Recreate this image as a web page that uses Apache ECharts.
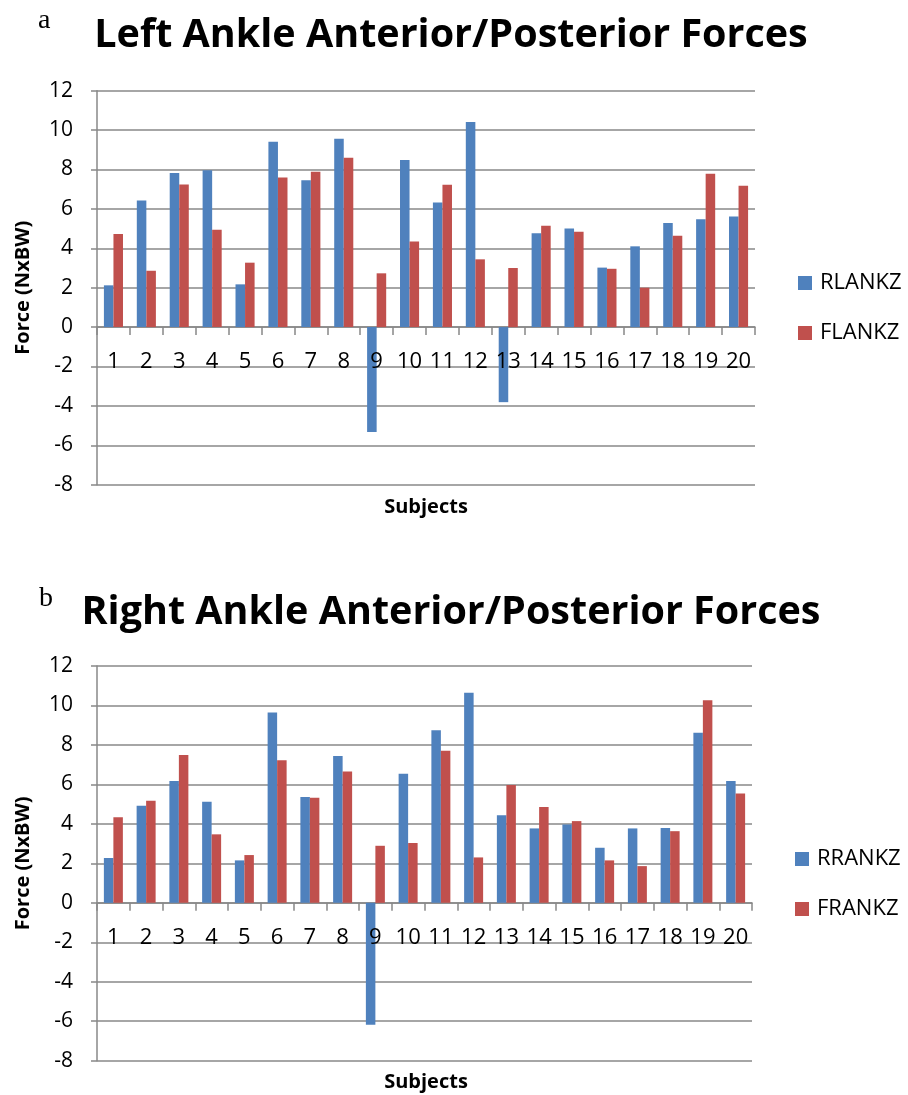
<!DOCTYPE html>
<html><head><meta charset="utf-8">
<script src="https://cdn.jsdelivr.net/npm/echarts@6/dist/echarts.min.js"></script>
<style>html,body{margin:0;padding:0;background:#fff}#c{width:908px;height:1095px}</style>
</head><body><div id="c"></div>
<script>
const subjects = ['1','2','3','4','5','6','7','8','9','10','11','12','13','14','15','16','17','18','19','20'];
const RLANKZ = [2.12,6.43,7.82,7.96,2.17,9.41,7.45,9.56,-5.33,8.48,6.33,10.41,-3.81,4.76,5.01,3.02,4.10,5.28,5.47,5.62];
const FLANKZ = [4.72,2.86,7.24,4.94,3.27,7.60,7.89,8.60,2.73,4.35,7.23,3.44,3.00,5.15,4.84,2.96,2.00,4.64,7.79,7.18];
const RRANKZ = [2.27,4.92,6.17,5.12,2.15,9.65,5.36,7.44,-6.18,6.54,8.75,10.64,4.44,3.77,3.97,2.79,3.77,3.79,8.62,6.17];
const FRANKZ = [4.34,5.17,7.49,3.47,2.42,7.22,5.32,6.66,2.89,3.03,7.70,2.30,5.97,4.85,4.14,2.15,1.86,3.63,10.27,5.54];
const titleTop = 'Left Ankle Anterior/Posterior Forces';
const titleBottom = 'Right Ankle Anterior/Posterior Forces';
const yTitle = 'Force (NxBW)';
const xTitle = 'Subjects';

const FONT = 'Open Sans';
const GRID = '#888888';
const BLUE = '#4F81BD', RED = '#C0504D';

function xAxis(i){
  return {
    type:'category', gridIndex:i, data:subjects,
    axisLine:{show:true, onZero:true, lineStyle:{color:GRID, width:1.5}},
    axisTick:{show:true, length:8, lineStyle:{color:GRID, width:1.5}},
    axisLabel:{show:false}
  };
}
function xLabelAxis(i, off){
  return {
    type:'category', gridIndex:i, data:subjects, position:'bottom', offset:off, z:20,
    axisLine:{show:false, onZero:false}, axisTick:{show:false}, splitLine:{show:false},
    axisLabel:{fontFamily:FONT, fontSize:22, color:'#000', margin:24, lineHeight:22, interval:0}
  };
}
function yAxis(i){
  return {
    type:'value', gridIndex:i, min:-8, max:12, interval:2,
    axisLine:{show:true, lineStyle:{color:GRID, width:1.5}},
    axisTick:{show:true, length:6, lineStyle:{color:GRID, width:1.5}},
    splitLine:{show:true, lineStyle:{color:GRID, width:1.5}},
    axisLabel:{fontFamily:FONT, fontSize:21, color:'#000', margin:24},
    name:yTitle, nameLocation:'middle', nameGap:64, nameRotate:90,
    nameTextStyle:{fontFamily:FONT, fontWeight:'bold', fontSize:20, color:'#000'}
  };
}
function bar(name, data, color, i){
  return {type:'bar', name, data, xAxisIndex:i, yAxisIndex:i, itemStyle:{color},
    barGap:'0%', barCategoryGap:'42%', animation:false};
}

const chart = echarts.init(document.getElementById('c'), null, {renderer:'canvas'});
const tStyle = {fontFamily:FONT, fontWeight:'bold', fontSize:39.5, color:'#000'};
const lStyle = {fontFamily:'Liberation Serif', fontWeight:'normal', fontSize:28, lineHeight:28, color:'#000'};
const sStyle = {fontFamily:FONT, fontWeight:'bold', fontSize:20, color:'#000'};
const legText = {fontFamily:FONT, fontSize:22, color:'#000', lineHeight:14, padding:[0,0,0,3]};
chart.setOption({
  animation:false,
  title:[
    {text:titleTop, left:451, top:36, padding:0, textAlign:'center', textVerticalAlign:'middle', textStyle:tStyle},
    {text:titleBottom, left:451, top:613, padding:0, textAlign:'center', textVerticalAlign:'middle', textStyle:tStyle},
    {text:'a', left:38, top:7, padding:0, textStyle:lStyle},
    {text:'b', left:39, top:585, padding:0, textStyle:lStyle},
    {text:xTitle, left:426, top:507, textAlign:'center', textVerticalAlign:'middle', textStyle:sStyle, padding:0},
    {text:xTitle, left:426, top:1082, textAlign:'center', textVerticalAlign:'middle', textStyle:sStyle, padding:0}
  ],
  grid:[
    {left:97, top:90.7, width:658, height:394, containLabel:false},
    {left:97, top:666, width:655, height:394.7, containLabel:false}
  ],
  xAxis:[xAxis(0), xAxis(1), xLabelAxis(0, -158.3), xLabelAxis(1, -158)],
  yAxis:[yAxis(0), yAxis(1)],
  legend:[
    {data:['RLANKZ','FLANKZ'], orient:'vertical', left:798, top:272, padding:0, itemWidth:14, itemHeight:14, itemGap:28,
      icon:'rect', textStyle:legText},
    {data:['RRANKZ','FRANKZ'], orient:'vertical', left:795, top:848, padding:0, itemWidth:14, itemHeight:14, itemGap:28,
      icon:'rect', textStyle:legText}
  ],
  series:[
    bar('RLANKZ', RLANKZ, BLUE, 0), bar('FLANKZ', FLANKZ, RED, 0),
    bar('RRANKZ', RRANKZ, BLUE, 1), bar('FRANKZ', FRANKZ, RED, 1)
  ]
});
</script>
</body></html>
